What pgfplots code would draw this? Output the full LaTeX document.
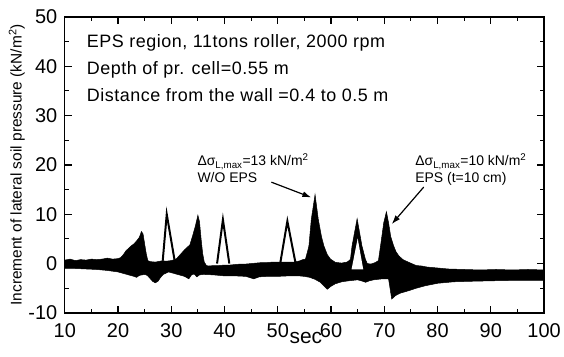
\documentclass[border=0pt]{standalone}
\usepackage{fontspec}
\setmainfont{Liberation Sans}
\usepackage{pgfplots}
\pgfplotsset{compat=1.18}
\usetikzlibrary{arrows.meta}
\begin{document}
\begin{tikzpicture}
\begin{axis}[
 width=481pt, height=297pt, scale only axis,
 xmin=10, xmax=100, ymin=-10, ymax=50,
 xtick={10,20,...,100}, ytick={-10,0,...,50},
 minor x tick num=1, minor y tick num=1,
 tick align=inside,
 major tick length=7pt, minor tick length=4pt,
 major tick style={line width=1.2pt, black},
 minor tick style={line width=1.1pt, black},
 axis line style={line width=1.3pt},
 /pgf/number format/assume math mode=true,
 ticklabel style={font=\fontsize{20}{20}\selectfont},
 xticklabel style={yshift=-7pt},
 yticklabel style={xshift=-4pt},
 xlabel={sec},
 ylabel={Increment of lateral soil pressure (kN/m\textsuperscript{2})},
 xlabel style={font=\fontsize{21}{21}\selectfont, at={(axis description cs:0.503,0)}, anchor=base, yshift=-31pt},
 ylabel style={font=\fontsize{15.5}{15.5}\selectfont, at={(axis description cs:-0.1,0.5)}, anchor=center},
 clip=false,
]
\path (rel axis cs:-0.1351,-0.1481) rectangle (rel axis cs:1.0374,1.0572);
% signal band: upper envelope then lower envelope reversed
\addplot[fill=black, draw=black, line width=0.5pt] coordinates {
(10,0.7) (11,0.9) (12,0.6) (13,0.8) (14,0.7) (15,0.9) (16,0.8) (17,0.9) (18,1.1) (19,0.9) (20,1.0) (20.5,1.2) (21,1.8) (21.5,2.6) (22,3.1) (22.5,3.6) (23,4.0) (23.5,4.6) (24,5.3) (24.4,6.5) (24.7,6.0) (25,4.0) (25.3,2.0) (25.6,0.6) (26,0.4) (27,0.3) (28,0.5) (28.4,0.6) (28.8,0.5) (29.2,0.5) (30,0.6) (30.6,0.8) (31,1.0) (31.5,1.6) (32,2.2) (32.5,2.8) (33,3.3) (33.5,3.8) (34,5.6) (34.5,7.5) (35.0,9.8) (35.3,8.5) (35.6,5.0) (35.9,2.0) (36.2,0.3) (36.6,-0.4) (37,-0.5) (38,-0.4) (39,-0.4) (40,-0.3) (41,-0.3) (42,-0.2) (43,-0.1) (44,-0.1) (45,0) (46,0.1) (47,0.2) (48,0.2) (49,0.3) (50,0.3) (51,0.3) (52,0.3) (53,0.3) (54,0.5) (54.7,0.8) (55.2,0.9) (55.6,2.5) (55.85,3.6) (56.3,9.0) (57.0,14.0) (57.6,9.0) (58.2,5.5) (58.65,3.6) (59.3,1.8) (59.9,0.9) (60.8,0.25) (62,0.1) (63,0.3) (63.4,0.6) (63.65,0.9) (63.95,3.6) (64.9,9.1) (65.8,3.6) (66.45,0.9) (66.8,0.0) (67.5,-0.1) (68.3,0.2) (68.9,0.6) (69.3,3.6) (69.9,8.3) (70.4,10.5) (70.8,8.3) (71.2,5.5) (71.75,3.6) (72.2,2.4) (72.7,1.6) (73.5,0.8) (74.6,0.25) (76,-0.4) (77,-0.5) (78,-0.7) (80,-0.9) (82,-1.1) (85,-1.2) (88,-1.3) (91,-1.2) (94,-1.3) (97,-1.2) (100,-1.3)
(100,-3.4) (95,-3.4) (90,-3.5) (86,-3.6) (83,-3.7) (80,-4.0) (77.7,-4.5) (76,-5.0) (74.6,-5.5) (73,-6.0) (72.1,-6.5) (71.4,-7.2) (70.8,-3.1) (69.6,-3.1) (68,-3.3) (67.2,-3.5) (66.5,-3.8) (66,-3.6) (65,-3.3) (63.3,-3.5) (62,-3.7) (60.8,-4.1) (60,-4.6) (59.3,-5.2) (58,-3.8) (57,-3.2) (56,-2.8) (55,-2.6) (54,-2.5) (52,-2.5) (50,-2.6) (48,-2.6) (46.5,-2.7) (45.5,-3.1) (44,-2.6) (42,-2.5) (40,-2.5) (38,-2.3) (36,-2.2) (35.3,-2.3) (34.8,-2.7) (34.3,-2.1) (33.8,-2.3) (33.3,-3.1) (32.5,-2.6) (31.5,-2.3) (30.5,-2.0) (29.5,-1.7) (28.5,-2.2) (28,-2.8) (27.5,-3.6) (27,-3.9) (26.5,-3.6) (26,-3.0) (25.5,-2.4) (25,-2.2) (24,-2.4) (23.5,-2.8) (23,-2.6) (22,-2.3) (21,-2.0) (20,-1.7) (18,-1.4) (16,-1.2) (14,-1.1) (12,-1.0) (10,-1.0)
} -- cycle;
% hollow peak at 65
\addplot[fill=white, draw=none] coordinates {(63.85,-1.2) (65.0,5.1) (66.05,-1.2)} -- cycle;
% outlined peaks
\addplot[black, line width=2pt] coordinates {(28.4,0.6) (29.15,10) (30.6,0.8)};
\addplot[black, line width=2pt] coordinates {(38.6,0) (39.7,8.9) (40.9,0)};
\addplot[black, line width=2pt] coordinates {(50.5,0.3) (51.8,8.6) (53.3,0.3)};
% annotations
\node[anchor=base west, inner sep=0pt, font=\fontsize{18}{18}\selectfont\addfontfeatures{LetterSpace=3}] at (axis cs:14.1,43.8) {EPS region, 11tons roller, 2000 rpm};
\node[anchor=base west, inner sep=0pt, font=\fontsize{18}{18}\selectfont\addfontfeatures{LetterSpace=3}] at (axis cs:14.1,38.3) {Depth of pr. cell=0.55 m};
\node[anchor=base west, inner sep=0pt, font=\fontsize{18}{18}\selectfont\addfontfeatures{LetterSpace=3}] at (axis cs:14.1,32.8) {Distance from the wall =0.4 to 0.5 m};
\node[anchor=base west, inner sep=0pt, font=\fontsize{14}{14}\selectfont] at (axis cs:34.9,19.8) {Δσ\textsubscript{L,max}=13 kN/m\textsuperscript{2}};
\node[anchor=base west, inner sep=0pt, font=\fontsize{14}{14}\selectfont] at (axis cs:34.9,16.4) {W/O EPS};
\node[anchor=base west, inner sep=0pt, font=\fontsize{14}{14}\selectfont] at (axis cs:75.8,19.8) {Δσ\textsubscript{L,max}=10 kN/m\textsuperscript{2}};
\node[anchor=base west, inner sep=0pt, font=\fontsize{14}{14}\selectfont] at (axis cs:75.8,16.4) {EPS (t=10 cm)};
\draw[-{Latex[length=9pt,width=6pt]}, line width=1.2pt] (axis cs:48.8,16.5) -- (axis cs:56.3,13.4);
\draw[-{Latex[length=9pt,width=6pt]}, line width=1.2pt] (axis cs:77.4,15.5) -- (axis cs:71.4,8.0);
\end{axis}
\end{tikzpicture}
\end{document}
